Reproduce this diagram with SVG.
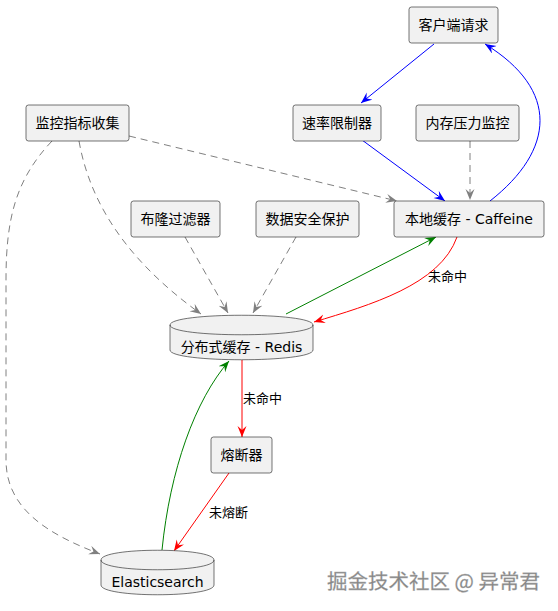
<svg xmlns="http://www.w3.org/2000/svg" width="558" height="611" viewBox="0 0 558 611">
<style>
.box{fill:#F1F1F1;stroke:#181818;stroke-width:0.6}
.t{font-family:"DejaVu Sans","Noto Sans CJK SC",sans-serif;font-size:14px;fill:#000;text-anchor:middle}
.lbl{font-family:"DejaVu Sans","Noto Sans CJK SC",sans-serif;font-size:13px;fill:#000}
.c{fill:none;stroke-width:1}
.blue{stroke:#0000FF;marker-end:url(#ab)}
.red{stroke:#FF0000;marker-end:url(#ar)}
.green{stroke:#008000;marker-end:url(#ag)}
.gray{stroke:#808080;stroke-dasharray:7,5;marker-end:url(#ay)}
.wm{font-family:"Noto Sans CJK SC",sans-serif;font-size:20.5px;fill:#858585;stroke:#b0b0b0;stroke-width:0.3}
</style>
<defs>
<marker id="ab" markerUnits="userSpaceOnUse" markerWidth="12" markerHeight="10" refX="11" refY="4.5" orient="auto"><path d="M0,0 L11,4.5 L0,9 L4,4.5 Z" fill="#0000FF"/></marker>
<marker id="ar" markerUnits="userSpaceOnUse" markerWidth="12" markerHeight="10" refX="11" refY="4.5" orient="auto"><path d="M0,0 L11,4.5 L0,9 L4,4.5 Z" fill="#FF0000"/></marker>
<marker id="ag" markerUnits="userSpaceOnUse" markerWidth="12" markerHeight="10" refX="11" refY="4.5" orient="auto"><path d="M0,0 L11,4.5 L0,9 L4,4.5 Z" fill="#008000"/></marker>
<marker id="ay" markerUnits="userSpaceOnUse" markerWidth="12" markerHeight="10" refX="11" refY="4.5" orient="auto"><path d="M0,0 L11,4.5 L0,9 L4,4.5 Z" fill="#808080"/></marker>
</defs>
<rect width="558" height="611" fill="#ffffff"/>
<g id="connectors">
<path class="c blue" d="M434,44 L361,103"/>
<path class="c blue" d="M362,140 L445,201"/>
<path class="c blue" d="M490,201 C555,150 560,90 485,44"/>
<path class="c gray" d="M470,141 L470,200"/>
<path class="c gray" d="M129,136 L397,201"/>
<path class="c gray" d="M79,141 C92,215 140,270 201,314"/>
<path class="c gray" d="M185,237 L228,313"/>
<path class="c gray" d="M296,237 L253,313"/>
<path class="c gray" d="M52,141 C15,180 6,220 6,280 L6,460 C6,510 50,535 100,554"/>
<path class="c red" d="M457,237 C440,285 370,305 314,322"/>
<path class="c green" d="M286,314 L436,237"/>
<path class="c red" d="M242,360 L242,437"/>
<path class="c red" d="M229,473 L174,551"/>
<path class="c green" d="M162,550 C170,470 195,400 229,361"/>
<text class="lbl" x="428" y="281">未命中</text>
<text class="lbl" x="243" y="403">未命中</text>
<text class="lbl" x="209" y="517">未熔断</text>
</g>
<g id="client"><rect class="box" x="409" y="7" width="89" height="36" rx="2.5"/><text class="t" x="453.5" y="30">客户端请求</text></g>
<g id="ratelimiter"><rect class="box" x="293" y="105" width="88" height="36" rx="2.5"/><text class="t" x="337" y="128">速率限制器</text></g>
<g id="memmonitor"><rect class="box" x="416" y="105" width="103" height="36" rx="2.5"/><text class="t" x="467.5" y="128">内存压力监控</text></g>
<g id="metrics"><rect class="box" x="26" y="105" width="103" height="36" rx="2.5"/><text class="t" x="77.5" y="128">监控指标收集</text></g>
<g id="bloom"><rect class="box" x="131" y="201" width="89" height="36" rx="2.5"/><text class="t" x="175.5" y="224">布隆过滤器</text></g>
<g id="security"><rect class="box" x="256" y="201" width="103" height="36" rx="2.5"/><text class="t" x="307.5" y="224">数据安全保护</text></g>
<g id="caffeine"><rect class="box" x="394" y="201" width="150" height="36" rx="2.5"/><text class="t" x="469" y="224">本地缓存 - Caffeine</text></g>
<g id="redis">
<path class="box" d="M170,325 C170,312 313,312 313,325 L313,350 C313,363 170,363 170,350 Z"/>
<path fill="none" stroke="#181818" stroke-width="0.6" d="M170,325 C170,338 313,338 313,325"/>
<text class="t" x="241.5" y="352">分布式缓存 - Redis</text>
</g>
<g id="circuit"><rect class="box" x="211" y="437" width="61" height="36" rx="2.5"/><text class="t" x="241.5" y="460">熔断器</text></g>
<g id="es">
<path class="box" d="M101,560 C101,547 214,547 214,560 L214,585 C214,598 101,598 101,585 Z"/>
<path fill="none" stroke="#181818" stroke-width="0.6" d="M101,560 C101,573 214,573 214,560"/>
<text class="t" x="157.5" y="587">Elasticsearch</text>
</g>
<text class="wm" x="327" y="589">掘金技术社区 @ 异常君</text>
</svg>
